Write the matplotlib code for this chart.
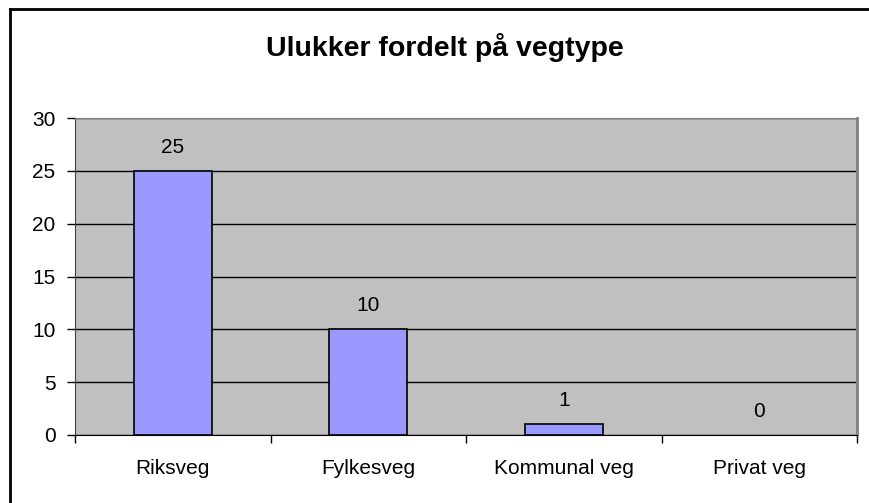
import matplotlib.pyplot as plt
from matplotlib.lines import Line2D

plt.rcParams['font.family'] = ['Liberation Sans', 'DejaVu Sans']

categories = ['Riksveg', 'Fylkesveg', 'Kommunal veg', 'Privat veg']
values = [25, 10, 1, 0]
title = 'Ulukker fordelt på vegtype'

W, H = 870, 503
fig = plt.figure(figsize=(W / 100, H / 100), dpi=100)

# plot area in pixel coords
left, right, top, bottom = 75, 857, 118, 435
ax = fig.add_axes([left / W, 1 - bottom / H, (right - left) / W, (bottom - top) / H])
ax.set_facecolor('#C0C0C0')

x = list(range(len(categories)))
bars = ax.bar(x, values, width=0.4, color='#9999FF', edgecolor='black', linewidth=1.2, zorder=3)
for b, v in zip(bars, values):
    if v == 0:
        b.set_edgecolor('none')
for xi, v in zip(x, values):
    ax.annotate(str(v), (xi, v), xytext=(0, 14), textcoords='offset pixels',
                ha='center', va='bottom', fontsize=15, zorder=4)

ax.set_xlim(-0.5, len(categories) - 0.5)
ax.set_ylim(0, 30)
ax.set_yticks(range(0, 31, 5))
ax.yaxis.grid(True, color='black', linewidth=1, zorder=1)
ax.set_axisbelow(True)

ax.set_xticks([i + 0.5 for i in range(-1, len(categories))])
ax.set_xticklabels([])
ax.set_xticks(x, minor=True)
ax.set_xticklabels(categories, minor=True, fontsize=15)
ax.tick_params(axis='x', which='minor', length=0, pad=17)
ax.tick_params(axis='x', which='major', length=6, width=1, color='black', direction='out')
ax.tick_params(axis='y', length=6, width=1, color='black', labelsize=15, pad=8)

ax.spines['left'].set_color('#404040')
ax.spines['bottom'].set_color('black')
ax.spines['top'].set_color('#808080')
ax.spines['right'].set_color('#808080')
ax.spines['right'].set_linewidth(2)
for s in ax.spines.values():
    s.set_zorder(5)

fig.text(445 / W, 1 - 48 / H, title, ha='center', va='center',
         fontsize=20.5, fontweight='bold')

# outer chart frame (left and top edges visible)
fig.add_artist(Line2D([10 / W, 10 / W], [0, 1 - 9 / H], color='black', linewidth=2))
fig.add_artist(Line2D([10 / W, 1], [1 - 9 / H, 1 - 9 / H], color='black', linewidth=2))

fig.savefig('out.png', dpi=100)
